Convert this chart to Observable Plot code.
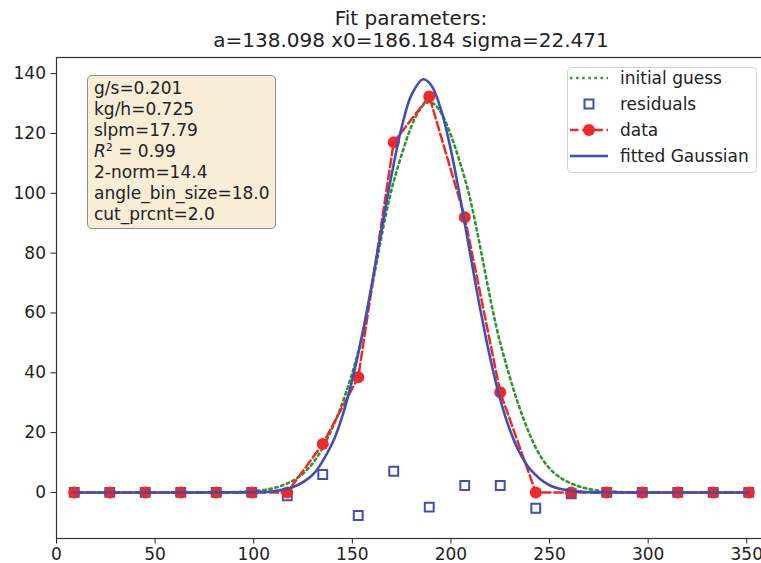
<!DOCTYPE html>
<html><head><meta charset="utf-8">
<script src="https://cdn.jsdelivr.net/npm/d3@7"></script>
<script src="https://cdn.jsdelivr.net/npm/@observablehq/plot@0.6"></script>
<style>
body{margin:0;background:#fff;}
#wrap{position:relative;width:761px;height:563px;overflow:hidden;font-family:"DejaVu Sans",sans-serif;}
#title{position:absolute;left:56px;width:710px;top:7px;text-align:center;font-size:20px;line-height:22px;color:#222;}
#box{position:absolute;left:87px;top:75px;width:176px;padding:2px 5px 3px 6px;background:#f8eed8;border:1.5px solid #8a8a8a;border-radius:5px;font-size:17px;line-height:21px;color:#222;white-space:nowrap;}
#legend{position:absolute;left:567px;top:67px;}
</style></head>
<body><div id="wrap"></div>
<script>
// ---- data ----
const angles = [9,27,45,63,81,99,117,135,153,171,189,207,225,243,261,279,297,315,333,351];
const dataVals = [0,0,0,0,0,0,0,16.2,38.5,117.1,132.4,92.0,33.5,0,0,0,0,0,0,0];
const residVals = [0,0,0,0,0,0,-1.1,6.0,-7.7,7.1,-4.9,2.3,2.3,-5.3,-0.5,0,0,0,0,0];
const guessVals = [0,0,0,0,0,0.4,3,15,47,104,130.5,105,50,15,3,0.4,0,0,0,0];
const fitX = [9,90,100,110,120,130,140,145,150,155,160,165,170,175,180,186,190,195,200,205,210,215,220,225,230,235,240,250,260,270,280,300,351];
const fitY = [0,0.01,0.1,0.4,1.8,6,16.7,25.7,37.7,52.7,70,88.5,106.5,122,132.9,138.1,136.1,127.9,114.4,97.3,78.8,60.8,44.6,31.1,20.7,13.1,7.9,2.4,0.6,0.1,0,0,0];
const xTicks = [0,50,100,150,200,250,300,350];
const yTicks = [0,20,40,60,80,100,120,140];
const titleLines = ["Fit parameters:", "a=138.098 x0=186.184 sigma=22.471"];
const boxLines = ["g/s=0.201","kg/h=0.725","slpm=17.79","R2","2-norm=14.4","angle_bin_size=18.0","cut_prcnt=2.0"];
const legendLabels = ["initial guess","residuals","data","fitted Gaussian"];

const red = "#f02828", blue = "#3f4fb4", green = "#2f962f";

const data = angles.map((a,i)=>({x:a, y:dataVals[i]}));
const resid = angles.map((a,i)=>({x:a, y:residVals[i]}));
const guess = angles.map((a,i)=>({x:a, y:guessVals[i]}));
const fit = fitX.map((a,i)=>({x:a, y:fitY[i]}));

const chart = Plot.plot({
  width: 761, height: 563,
  marginLeft: 56, marginRight: -5, marginTop: 57, marginBottom: 25,
  style: {fontFamily: "DejaVu Sans", fontSize: "17px", color: "#222", background: "white"},
  x: {domain: [0, 360], ticks: xTicks, tickSize: 5.5, tickPadding: 3.5, label: null},
  y: {domain: [-15.4, 145.4], ticks: yTicks, tickSize: 5.5, tickPadding: 5, label: null},
  marks: [
    Plot.line(guess, {x:"x", y:"y", stroke: green, strokeWidth: 2.6, strokeDasharray: "2.5,3.6", curve: "monotone-x"}),
    Plot.dot(resid, {x:"x", y:"y", symbol: "square", r: 5, stroke: blue, strokeWidth: 2, fill: "none"}),
    Plot.line(data, {x:"x", y:"y", stroke: red, strokeWidth: 2.5, strokeDasharray: "8.5,3.7"}),
    Plot.dot(data, {x:"x", y:"y", r: 6, fill: red, stroke: "none"}),
    Plot.line(fit, {x:"x", y:"y", stroke: blue, strokeWidth: 2.6, curve: "catmull-rom"}),
    Plot.frame({stroke: "#333", strokeWidth: 1.2})
  ]
});
const wrap = document.getElementById("wrap");
wrap.appendChild(chart);

const t = document.createElement("div");
t.id = "title";
t.innerHTML = titleLines.join("<br>");
wrap.appendChild(t);

const box = document.createElement("div");
box.id = "box";
box.innerHTML = boxLines.map(l => l === "R2"
  ? '<div><i>R</i><sup style="font-size:11px;line-height:0;vertical-align:6px">2</sup> = 0.99</div>'
  : '<div>' + l + '</div>').join("");
wrap.appendChild(box);

// legend
const lw = 190, lh = 106;
const lg = d3.create("svg").attr("id","legend").attr("width", lw).attr("height", lh)
  .style("font-family","DejaVu Sans").style("font-size","17px");
lg.append("rect").attr("x",0.5).attr("y",0.5).attr("width",lw-1).attr("height",lh-1)
  .attr("rx",4).attr("fill","white").attr("fill-opacity",0.85).attr("stroke","#d2d2d2");
const ys = [11, 37, 63, 89];
lg.append("line").attr("x1",3).attr("x2",41).attr("y1",ys[0]).attr("y2",ys[0])
  .attr("stroke",green).attr("stroke-width",2.6).attr("stroke-dasharray","2.5,3.6");
lg.append("rect").attr("x",17.5).attr("y",ys[1]-4.5).attr("width",9).attr("height",9)
  .attr("fill","none").attr("stroke",blue).attr("stroke-width",2);
lg.append("line").attr("x1",3).attr("x2",41).attr("y1",ys[2]).attr("y2",ys[2])
  .attr("stroke",red).attr("stroke-width",2.5).attr("stroke-dasharray","8.5,3.7");
lg.append("circle").attr("cx",22).attr("cy",ys[2]).attr("r",6).attr("fill",red);
lg.append("line").attr("x1",3).attr("x2",41).attr("y1",ys[3]).attr("y2",ys[3])
  .attr("stroke",blue).attr("stroke-width",2.6);
legendLabels.forEach((s,i)=>{
  lg.append("text").attr("x",53).attr("y",ys[i]).attr("dy","0.35em").attr("fill","#222").text(s);
});
wrap.appendChild(lg.node());
</script>
</body></html>
